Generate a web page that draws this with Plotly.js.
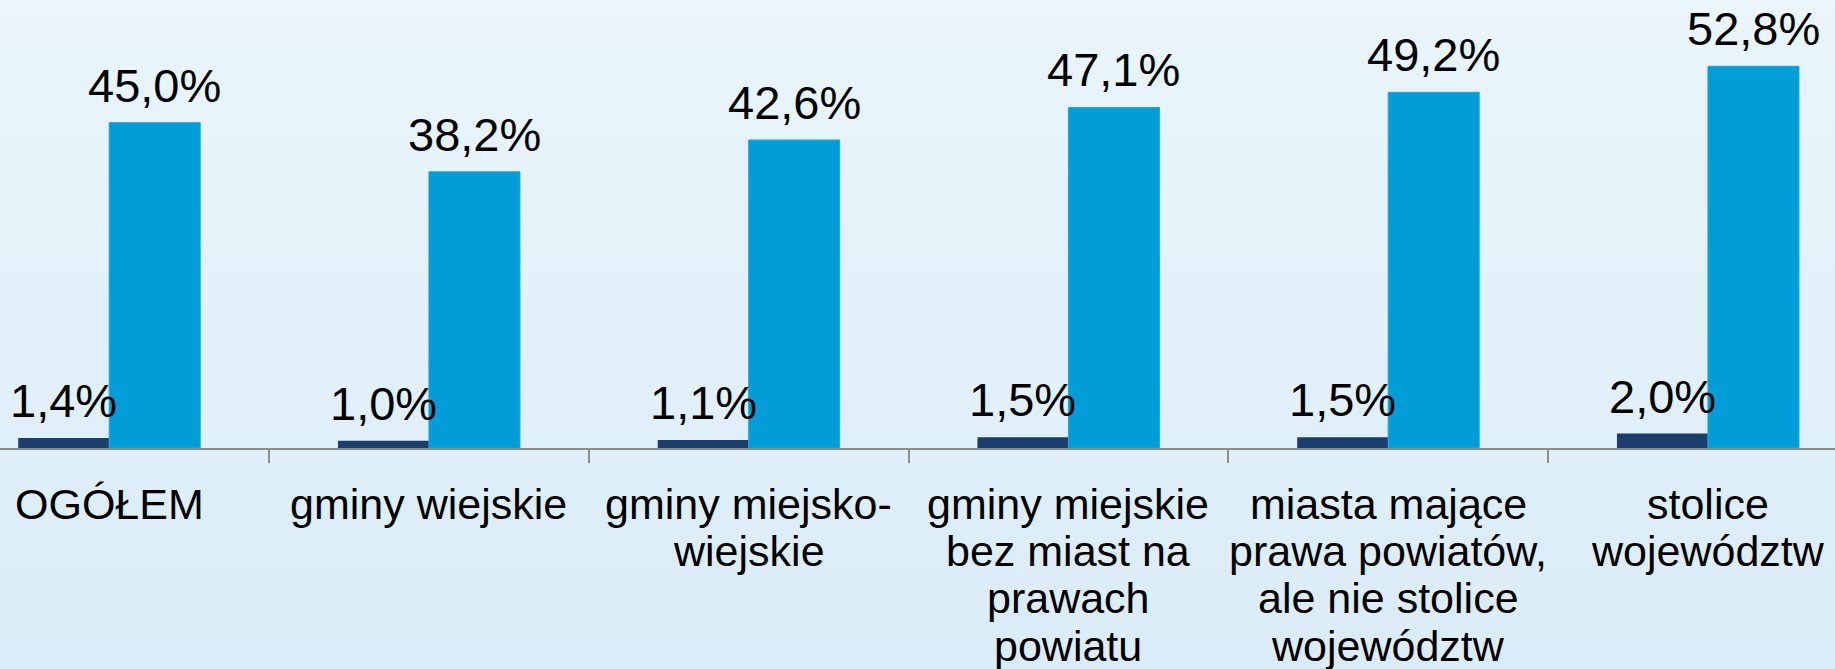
<!DOCTYPE html>
<html>
<head>
<meta charset="utf-8">
<script src="https://cdn.plot.ly/plotly-3.0.1.min.js"></script>
<style>
  html, body { margin: 0; padding: 0; width: 1835px; height: 669px; overflow: hidden;
    background: linear-gradient(to bottom, #EAF5FC 0%, #DAECF7 100%); }
  #chart { width: 1835px; height: 669px; }
</style>
</head>
<body>
<div id="chart"></div>
<script>
// Data
const categories = [
  "OGÓŁEM",
  "gminy wiejskie",
  "gminy miejsko-<br>wiejskie",
  "gminy miejskie<br>bez miast na<br>prawach<br>powiatu",
  "miasta mające<br>prawa powiatów,<br>ale nie stolice<br>województw",
  "stolice<br>województw"
];
const seriesDark = [1.4, 1.0, 1.1, 1.5, 1.5, 2.0];
const seriesLight = [45.0, 38.2, 42.6, 47.1, 49.2, 52.8];

// Styling / layout
const barW = 0.2846;
const xs = categories.map((_, i) => i);
const fmt = v => v.toFixed(1).replace('.', ',') + '%';
const FONT = "Liberation Sans, Arial, sans-serif";

const traces = [
  { type: 'bar', x: xs, y: seriesDark, width: barW, offset: -barW,
    marker: { color: '#1A3F6E' }, hoverinfo: 'skip', showlegend: false },
  { type: 'bar', x: xs, y: seriesLight, width: barW, offset: 0,
    marker: { color: '#009DD9', line: { color: '#1AA8E0', width: 1 } }, hoverinfo: 'skip', showlegend: false }
];

const annotations = [];
xs.forEach((x, i) => {
  annotations.push({ x: x - barW / 2, y: seriesDark[i], xref: 'x', yref: 'y', text: fmt(seriesDark[i]),
    showarrow: false, xanchor: 'center', yanchor: 'bottom', yshift: 9,
    font: { family: FONT, size: 47, color: '#000' } });
  annotations.push({ x: x + barW / 2, y: seriesLight[i], xref: 'x', yref: 'y', text: fmt(seriesLight[i]),
    showarrow: false, xanchor: 'center', yanchor: 'bottom', yshift: 9,
    font: { family: FONT, size: 47, color: '#000' } });
  categories[i].split('<br>').forEach((line, k) => {
    annotations.push({ x: x, y: 0, xref: 'x', yref: 'y', text: line,
      showarrow: false, xanchor: 'center', yanchor: 'bottom', yshift: -(82 + 47.2 * k),
      font: { family: FONT, size: 43, color: '#000' } });
  });
});

const pxPerUnit = 319.75;
const firstCenter = 109.2;
const layout = {
  width: 1835, height: 669,
  margin: { l: 0, r: 0, t: 0, b: 221, pad: 0 },
  paper_bgcolor: 'rgba(0,0,0,0)', plot_bgcolor: 'rgba(0,0,0,0)',
  barmode: 'overlay',
  xaxis: {
    range: [-firstCenter / pxPerUnit, (1835 - firstCenter) / pxPerUnit],
    tickvals: [0.5, 1.5, 2.5, 3.5, 4.5], ticktext: ['', '', '', '', ''],
    ticks: 'outside', ticklen: 13, tickwidth: 2, tickcolor: '#8C8C8C',
    showticklabels: false, showgrid: false, zeroline: false,
    showline: true, linecolor: '#8C8C8C', linewidth: 2, fixedrange: true
  },
  yaxis: { range: [0, 448 / 7.23], visible: false, showgrid: false, zeroline: false, fixedrange: true },
  annotations: annotations,
  font: { family: FONT }
};

Plotly.newPlot('chart', traces, layout, { displayModeBar: false, staticPlot: true });
</script>
</body>
</html>
